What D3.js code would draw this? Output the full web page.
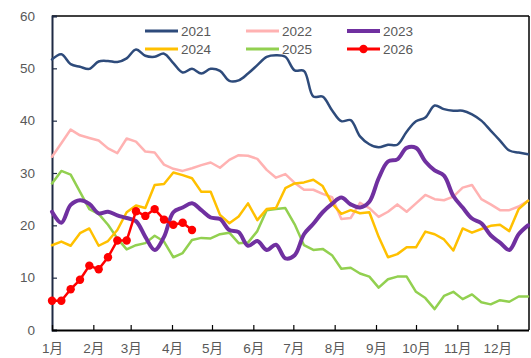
<!DOCTYPE html>
<html><head><meta charset="utf-8">
<script src="https://cdn.jsdelivr.net/npm/d3@7"></script>
<style>
html,body{margin:0;padding:0;background:#fff;}
svg{display:block;}
text{font-family:"Liberation Sans","Noto Sans CJK SC",sans-serif;fill:#595959;}
</style></head>
<body>
<svg id="chart" width="531" height="358"></svg>
<script>
const monthLabels = ["1月","2月","3月","4月","5月","6月","7月","8月","9月","10月","11月","12月"];
const yTicks = [0,10,20,30,40,50,60];
const seriesNames = ["2021","2022","2023","2024","2025","2026"];
const s2021 = [51.7,52.7,50.8,50.3,49.9,51.3,51.4,51.2,51.9,53.6,52.4,52.2,52.8,51.0,49.2,49.9,49.0,49.9,49.5,47.6,47.7,49.0,50.6,52.2,52.5,52.2,49.6,49.5,44.6,44.6,42.0,39.9,40.1,37.0,35.5,34.9,35.4,35.4,37.9,39.9,40.6,42.9,42.2,41.9,41.9,41.2,40.0,38.1,36.2,34.3,33.9,33.6];
const s2022 = [33.1,35.7,38.3,37.2,36.7,36.2,34.7,33.8,36.6,36.0,34.1,33.9,31.6,30.8,30.4,30.9,31.5,32.0,31.0,32.5,33.4,33.3,32.7,30.6,29.1,29.8,28.1,26.8,26.8,26.0,25.4,21.2,21.4,24.3,23.3,21.6,22.6,24.0,22.6,24.2,25.8,25.0,24.8,25.5,27.2,27.7,25.0,24.0,22.9,22.9,23.6,24.7];
const s2023 = [22.6,20.5,23.9,24.8,24.1,22.3,22.6,21.9,21.4,20.8,17.8,15.3,17.8,22.5,23.4,24.2,22.9,21.5,21.2,19.1,18.7,16.1,17.0,15.3,16.3,13.7,14.3,18.3,20.3,22.5,24.1,25.3,24.0,23.4,24.5,29.0,32.2,32.6,34.8,34.8,32.2,30.5,29.5,25.6,23.4,21.3,20.4,18.1,16.7,15.3,18.3,20.0];
const s2024 = [16.2,16.9,16.1,18.5,19.4,16.1,17.0,19.1,22.5,23.8,23.3,27.7,27.9,30.1,29.6,29.0,26.4,26.4,22.0,20.4,21.7,24.2,21.0,23.1,23.3,27.1,28.0,28.2,28.7,27.5,24.2,22.2,22.9,22.3,22.5,17.8,13.9,14.5,15.8,15.8,18.8,18.3,17.3,15.2,19.4,18.6,19.3,19.9,20.1,18.9,23.1,24.7];
const s2025 = [28.0,30.4,29.7,26.4,23.1,22.2,20.1,17.5,15.4,16.2,16.6,18.0,16.9,13.9,14.7,17.2,17.6,17.5,18.3,18.6,16.6,16.7,18.9,22.9,23.1,23.3,20.2,16.2,15.3,15.5,14.3,11.7,11.9,10.8,10.2,8.1,9.7,10.2,10.2,7.3,6.1,4.0,6.5,7.3,5.9,6.8,5.3,4.9,5.7,5.4,6.4,6.4];
const s2026 = [5.6,5.6,7.8,9.6,12.3,11.6,13.9,17.1,17.1,22.7,21.8,23.1,21.1,20.1,20.5,19.1];

const colors = {"2021":"#2E4B7B","2022":"#FFB2B2","2023":"#7030A0","2024":"#FFC000","2025":"#92D050","2026":"#FF0000"};
const widths = {"2021":2.5,"2022":2.5,"2023":4,"2024":2.5,"2025":2.5,"2026":2.5};
const smooth = {"2021":true,"2022":false,"2023":true,"2024":false,"2025":false,"2026":false};
const values = {"2021":s2021,"2022":s2022,"2023":s2023,"2024":s2024,"2025":s2025,"2026":s2026};

const svg = d3.select("#chart");
const L = 52, R = 528, T = 16, B = 330;
const start = new Date(2025,0,1);
const weekDate = i => d3.timeDay.offset(start, 7*i);
const x = d3.scaleTime().domain([start, weekDate(51)]).range([L, R]);
const y = d3.scaleLinear().domain([0,60]).range([B, T]);

// frame
svg.append("line").attr("x1",L).attr("x2",R+1).attr("y1",T).attr("y2",T).attr("stroke","#000").attr("stroke-width",1.5);
svg.append("line").attr("x1",R+1).attr("x2",R+1).attr("y1",T).attr("y2",B).attr("stroke","#000").attr("stroke-width",1.5);

// y axis
const yAxis = svg.append("g").attr("transform",`translate(${L},0)`)
  .call(d3.axisLeft(y).tickValues(yTicks).tickSize(-5).tickPadding(17));
yAxis.select(".domain").attr("stroke","#1F2A44").attr("stroke-width",2);
yAxis.selectAll(".tick line").attr("stroke","#1F2A44").attr("stroke-width",1.2);
yAxis.selectAll("text").style("font-size","13.5px").style("font-family",null).attr("fill","#595959");

// x axis
const months = d3.timeMonth.range(start, d3.timeDay.offset(start, 358));
const xAxis = svg.append("g").attr("transform",`translate(0,${B})`)
  .call(d3.axisBottom(x).tickValues(months).tickSize(-5).tickPadding(13)
    .tickFormat((d,i)=>monthLabels[i]).tickSizeOuter(0));
xAxis.select(".domain").attr("stroke","#000").attr("stroke-width",2).attr("d",`M${L},0.5H${R+1}`);
xAxis.selectAll(".tick line").attr("stroke","#000").attr("stroke-width",1.2);
xAxis.selectAll("text").style("font-size","13.5px").attr("fill","#595959");
svg.selectAll("g").attr("font-family",null);

// lines
const order = ["2021","2022","2025","2024","2023","2026"];
order.forEach(name => {
  const data = values[name].map((v,i)=>({d:weekDate(i), v}));
  const line = d3.line().x(p=>x(p.d)).y(p=>y(p.v))
    .curve(smooth[name] ? d3.curveCatmullRom.alpha(0.5) : d3.curveLinear);
  svg.append("path").datum(data).attr("d",line).attr("fill","none")
    .attr("stroke",colors[name]).attr("stroke-width",widths[name])
    .attr("stroke-linejoin","round").attr("stroke-linecap","round");
  if (name === "2026") {
    svg.append("g").selectAll("circle").data(data).join("circle")
      .attr("cx",p=>x(p.d)).attr("cy",p=>y(p.v)).attr("r",4.2).attr("fill",colors[name]);
  }
});

// legend
const legX = [145, 246, 347];
const legY = [31, 49];
seriesNames.forEach((name,k) => {
  const cx = legX[k%3], cy = legY[Math.floor(k/3)];
  const g = svg.append("g");
  g.append("line").attr("x1",cx).attr("x2",cx+33).attr("y1",cy).attr("y2",cy)
    .attr("stroke",colors[name]).attr("stroke-width",name==="2023"?4:3);
  if (name==="2026") g.append("circle").attr("cx",cx+16.5).attr("cy",cy).attr("r",4.2).attr("fill",colors[name]);
  g.append("text").attr("x",cx+36).attr("y",cy).attr("dy","0.35em").style("font-size","13.5px").text(name);
});
</script>
</body></html>
